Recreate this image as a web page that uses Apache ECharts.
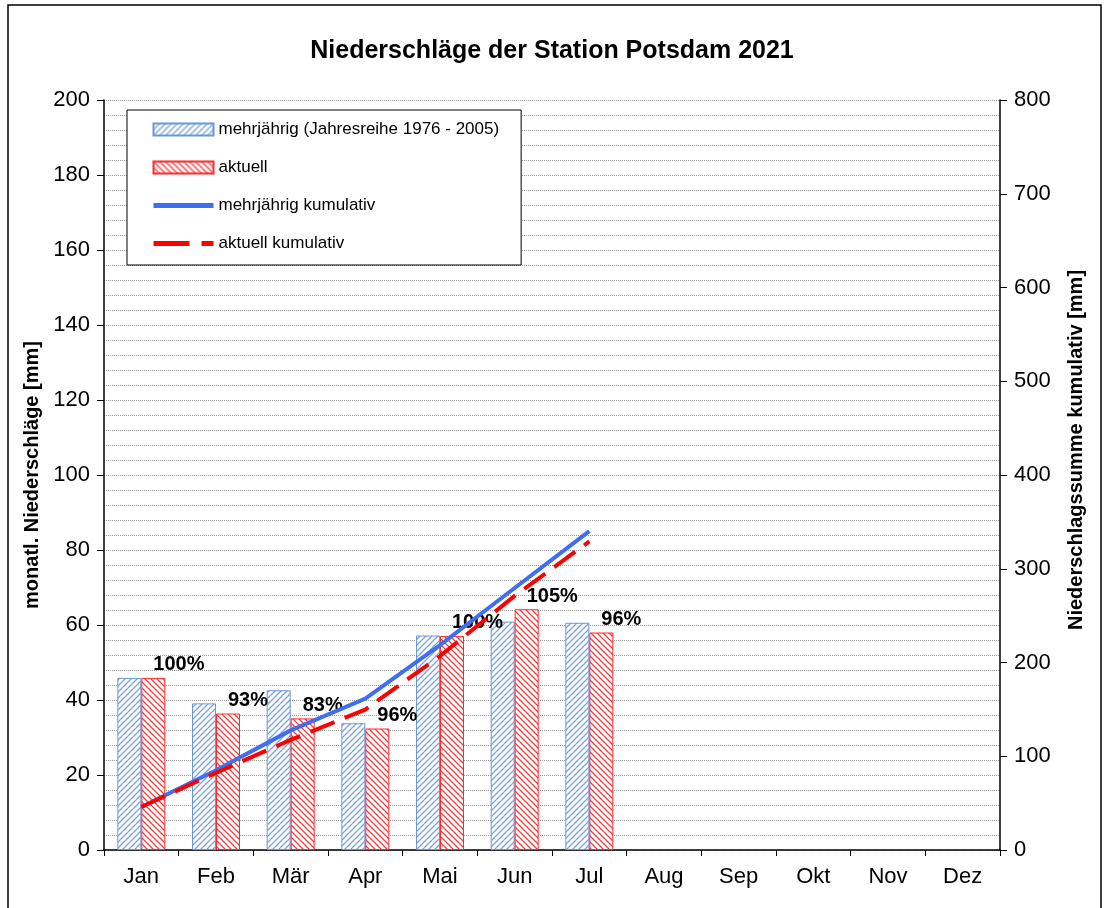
<!DOCTYPE html>
<html>
<head>
<meta charset="utf-8">
<script src="https://cdn.jsdelivr.net/npm/echarts@6/dist/echarts.min.js"></script>
<style>
  html, body { margin: 0; padding: 0; background: #fff; }
  #chart { width: 1104px; height: 908px; }
</style>
</head>
<body>
<div id="chart"></div>
<script>
// Monatswerte [mm]
var months = ['Jan', 'Feb', 'Mär', 'Apr', 'Mai', 'Jun', 'Jul', 'Aug', 'Sep', 'Okt', 'Nov', 'Dez'];
var mehrjaehrig = [45.9, 39.1, 42.6, 33.8, 57.2, 60.9, 60.6];
var aktuell = [45.9, 36.4, 35.1, 32.4, 57.1, 64.2, 58.0];
var prozent = ['100%', '93%', '83%', '96%', '100%', '105%', '96%'];

function kumulativ(arr) {
  var sum = 0;
  return arr.map(function (v) { sum += v; return +sum.toFixed(1); });
}
var mehrjaehrigKum = kumulativ(mehrjaehrig);
var aktuellKum = kumulativ(aktuell);

// schraffur als canvas-muster
function hatch(color, dir) {
  var c = document.createElement('canvas');
  c.width = 6; c.height = 6;
  var ctx = c.getContext('2d');
  ctx.fillStyle = '#fff';
  ctx.fillRect(0, 0, 6, 6);
  ctx.strokeStyle = color;
  ctx.lineWidth = 1.3;
  ctx.beginPath();
  if (dir > 0) {
    ctx.moveTo(-1, 7); ctx.lineTo(7, -1);
    ctx.moveTo(-1, 1); ctx.lineTo(1, -1);
    ctx.moveTo(5, 7); ctx.lineTo(7, 5);
  } else {
    ctx.moveTo(-1, -1); ctx.lineTo(7, 7);
    ctx.moveTo(5, -1); ctx.lineTo(7, 1);
    ctx.moveTo(-1, 5); ctx.lineTo(1, 7);
  }
  ctx.stroke();
  return c;
}

var chart = echarts.init(document.getElementById('chart'));
var font = 'Liberation Sans, Arial, sans-serif';
var gridLine = { show: true, lineStyle: { color: '#999', type: [1, 1], width: 1 } };
var blue = '#3f6ff0', red = '#ff0000';

var option = {
  backgroundColor: '#fff',
  animation: false,
  textStyle: { fontFamily: font },
  title: {
    text: 'Niederschläge der Station Potsdam 2021',
    left: 'center',
    top: 34,
    textStyle: { fontSize: 25, fontWeight: 'bold', color: '#000', fontFamily: font }
  },
  graphic: [{
    type: 'rect',
    shape: { x: 8, y: 5, width: 1093, height: 920 },
    style: { fill: null, stroke: '#000', lineWidth: 1.5 },
    silent: true
  }],
  legend: {
    orient: 'vertical',
    left: 127,
    top: 110,
    padding: [11, 22, 13, 24],
    itemGap: 21,
    itemWidth: 60,
    itemHeight: 12,
    backgroundColor: '#fff',
    borderColor: '#000',
    borderWidth: 1,
    textStyle: { fontSize: 17, color: '#000', fontFamily: font },
    data: [
      { name: 'mehrjährig (Jahresreihe 1976 - 2005)', icon: 'rect' },
      { name: 'aktuell', icon: 'rect' },
      { name: 'mehrjährig kumulativ', itemStyle: { opacity: 0 }, lineStyle: { width: 5, color: blue } },
      { name: 'aktuell kumulativ', itemStyle: { opacity: 0 }, lineStyle: { width: 5, color: red, type: [36, 12] } }
    ]
  },
  grid: { left: 104, right: 104, top: 100, bottom: 58 },
  xAxis: {
    type: 'category',
    data: months,
    axisLine: { lineStyle: { color: '#000', width: 1.5 } },
    axisTick: { show: true, length: 6, lineStyle: { color: '#000' } },
    axisLabel: { fontSize: 22, color: '#000', margin: 16, fontFamily: font },
    splitLine: { show: false }
  },
  yAxis: [{
    type: 'value',
    min: 0, max: 200, interval: 20,
    name: 'monatl. Niederschläge [mm]',
    nameLocation: 'middle',
    nameRotate: 90,
    nameGap: 62,
    nameTextStyle: { fontSize: 20, fontWeight: 'bold', color: '#000', fontFamily: font },
    axisLine: { show: true, lineStyle: { color: '#000', width: 1.5 } },
    axisTick: { show: true, length: 7, lineStyle: { color: '#000' } },
    axisLabel: { fontSize: 22, color: '#000', margin: 14, fontFamily: font },
    splitLine: gridLine,
    minorTick: { show: false, splitNumber: 5 },
    minorSplitLine: gridLine
  }, {
    type: 'value',
    min: 0, max: 800, interval: 100,
    name: 'Niederschlagssumme kumulativ [mm]',
    nameLocation: 'middle',
    nameRotate: 90,
    nameGap: 66,
    nameTextStyle: { fontSize: 20, fontWeight: 'bold', color: '#000', fontFamily: font, padding: [0, 0, 0, 50] },
    axisLine: { show: true, lineStyle: { color: '#000', width: 1.5 } },
    axisTick: { show: true, length: 7, lineStyle: { color: '#000' } },
    axisLabel: { fontSize: 22, color: '#000', margin: 14, fontFamily: font },
    splitLine: { show: false }
  }],
  series: [{
    name: 'mehrjährig (Jahresreihe 1976 - 2005)',
    type: 'bar',
    data: mehrjaehrig,
    barWidth: 24,
    barGap: '0%',
    itemStyle: {
      color: { image: hatch('#7ea3d8', 1), repeat: 'repeat' },
      borderColor: '#6a97d6',
      borderWidth: 1
    }
  }, {
    name: 'aktuell',
    type: 'bar',
    data: aktuell,
    barWidth: 24,
    barGap: '0%',
    itemStyle: {
      color: { image: hatch('#ff3b3b', -1), repeat: 'repeat' },
      borderColor: '#ff2a2a',
      borderWidth: 1
    },
    label: {
      show: true,
      position: 'top',
      align: 'left',
      offset: [0, 0],
      distance: 3,
      fontSize: 20,
      fontWeight: 'bold',
      color: '#000',
      fontFamily: font,
      formatter: function (p) { return prozent[p.dataIndex]; }
    }
  }, {
    name: 'mehrjährig kumulativ',
    type: 'line',
    yAxisIndex: 1,
    data: mehrjaehrigKum,
    symbol: 'none',
    z: 5,
    lineStyle: { color: blue, width: 4 },
    itemStyle: { color: blue }
  }, {
    name: 'aktuell kumulativ',
    type: 'line',
    yAxisIndex: 1,
    data: aktuellKum,
    symbol: 'none',
    z: 6,
    lineStyle: { color: red, width: 4, type: [26, 11] },
    itemStyle: { color: red }
  }]
};

chart.setOption(option);
</script>
</body>
</html>
